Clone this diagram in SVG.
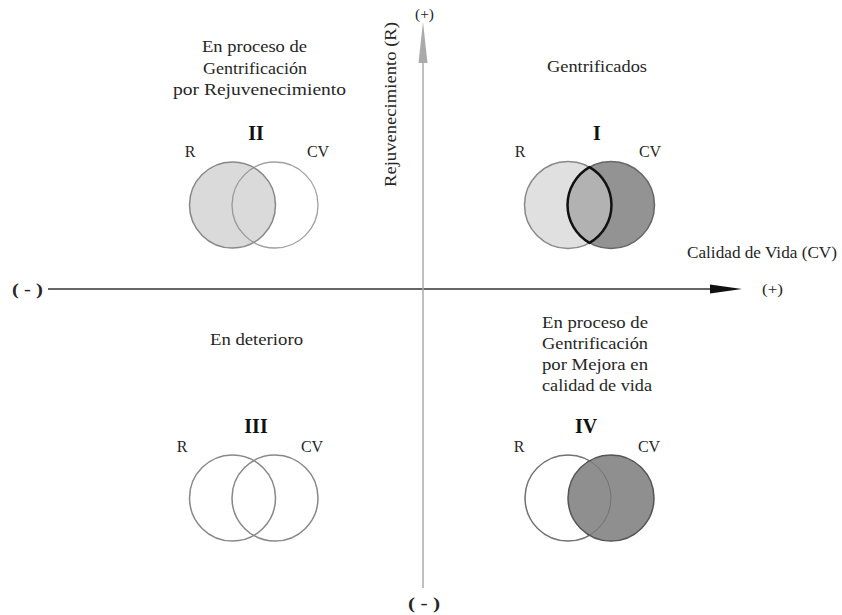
<svg xmlns="http://www.w3.org/2000/svg" width="842" height="615" viewBox="0 0 842 615">
<style>
text{font-family:"Liberation Serif","Times New Roman",serif;fill:#262626}
.lbl{font-size:17px}
.rc{font-size:16px;text-anchor:middle}
.sm{font-size:15px}
.num{font-size:20px;font-weight:bold;text-anchor:middle;fill:#111}
.circ{stroke:#888;stroke-width:1.5}
</style>
<g id="connectors">
<line x1="48" y1="289" x2="712" y2="289" stroke="#333" stroke-width="1.5"/>
<polygon points="710,284.5 742,289 710,293.5" fill="#111"/>
<line x1="423" y1="588" x2="423" y2="60" stroke="#aaa" stroke-width="1.5"/>
<polygon points="418.5,63 423,22 427.5,63" fill="#aaa"/>
</g>
<g id="axis-labels">
<text class="lbl" x="12" y="295" textLength="31" lengthAdjust="spacingAndGlyphs" style="font-weight:bold">( - )</text>
<text class="sm" x="762" y="294" textLength="21" lengthAdjust="spacingAndGlyphs">(+)</text>
<text class="sm" x="415" y="19" textLength="19" lengthAdjust="spacingAndGlyphs">(+)</text>
<text class="lbl" x="408" y="609" textLength="32" lengthAdjust="spacingAndGlyphs" style="font-weight:bold">( - )</text>
<text class="lbl" x="687" y="258" textLength="150" lengthAdjust="spacingAndGlyphs">Calidad de Vida (CV)</text>
<text class="lbl" transform="translate(396,187) rotate(-90)" textLength="165" lengthAdjust="spacingAndGlyphs">Rejuvenecimiento (R)</text>
</g>
<g id="quadrant-II">
<text class="lbl" x="202" y="52" textLength="105" lengthAdjust="spacingAndGlyphs">En proceso de</text>
<text class="lbl" x="203" y="74" textLength="104" lengthAdjust="spacingAndGlyphs">Gentrificación</text>
<text class="lbl" x="173" y="95" textLength="173" lengthAdjust="spacingAndGlyphs">por Rejuvenecimiento</text>
<text class="num" x="256" y="140">II</text>
<text class="rc" x="190" y="157">R</text>
<text class="rc" x="318" y="157">CV</text>
<circle class="circ" cx="232.5" cy="205" r="43" fill="#dadada"/>
<circle cx="275" cy="205" r="43" fill="none" stroke="#888" stroke-width="1.3" stroke-opacity="0.8"/>
</g>
<g id="quadrant-I">
<text class="lbl" x="547" y="72" textLength="100" lengthAdjust="spacingAndGlyphs">Gentrificados</text>
<text class="num" x="597" y="140">I</text>
<text class="rc" x="520" y="157">R</text>
<text class="rc" x="650" y="157">CV</text>
<circle class="circ" cx="568" cy="205" r="43.5" fill="#e0e0e0"/>
<circle cx="611" cy="205" r="43.5" fill="#939393" stroke="#666" stroke-width="1.5"/>
<path d="M589.5,167.2 A43.5,43.5 0 0 1 589.5,242.8 A43.5,43.5 0 0 1 589.5,167.2 Z" fill="#b2b2b2" stroke="#111" stroke-width="2.5"/>
</g>
<g id="quadrant-III">
<text class="lbl" x="210" y="345" textLength="93" lengthAdjust="spacingAndGlyphs">En deterioro</text>
<text class="num" x="256" y="433">III</text>
<text class="rc" x="182" y="452">R</text>
<text class="rc" x="312" y="452">CV</text>
<circle class="circ" cx="232.5" cy="498" r="43" fill="none"/>
<circle class="circ" cx="275" cy="498" r="43" fill="none"/>
</g>
<g id="quadrant-IV">
<text class="lbl" x="542" y="328" textLength="106" lengthAdjust="spacingAndGlyphs">En proceso de</text>
<text class="lbl" x="542" y="349" textLength="106" lengthAdjust="spacingAndGlyphs">Gentrificación</text>
<text class="lbl" x="542" y="370" textLength="106" lengthAdjust="spacingAndGlyphs">por Mejora en</text>
<text class="lbl" x="542" y="391" textLength="110" lengthAdjust="spacingAndGlyphs">calidad de vida</text>
<text class="num" x="586" y="433">IV</text>
<text class="rc" x="519" y="452">R</text>
<text class="rc" x="649" y="452">CV</text>
<circle class="circ" cx="568" cy="498" r="43" fill="#fff"/>
<circle cx="611" cy="498" r="43" fill="#8f8f8f" stroke="#555" stroke-width="1.5"/>
<circle cx="568" cy="498" r="43" fill="none" stroke="#555" stroke-width="1" stroke-opacity="0.5"/>
</g>
</svg>
